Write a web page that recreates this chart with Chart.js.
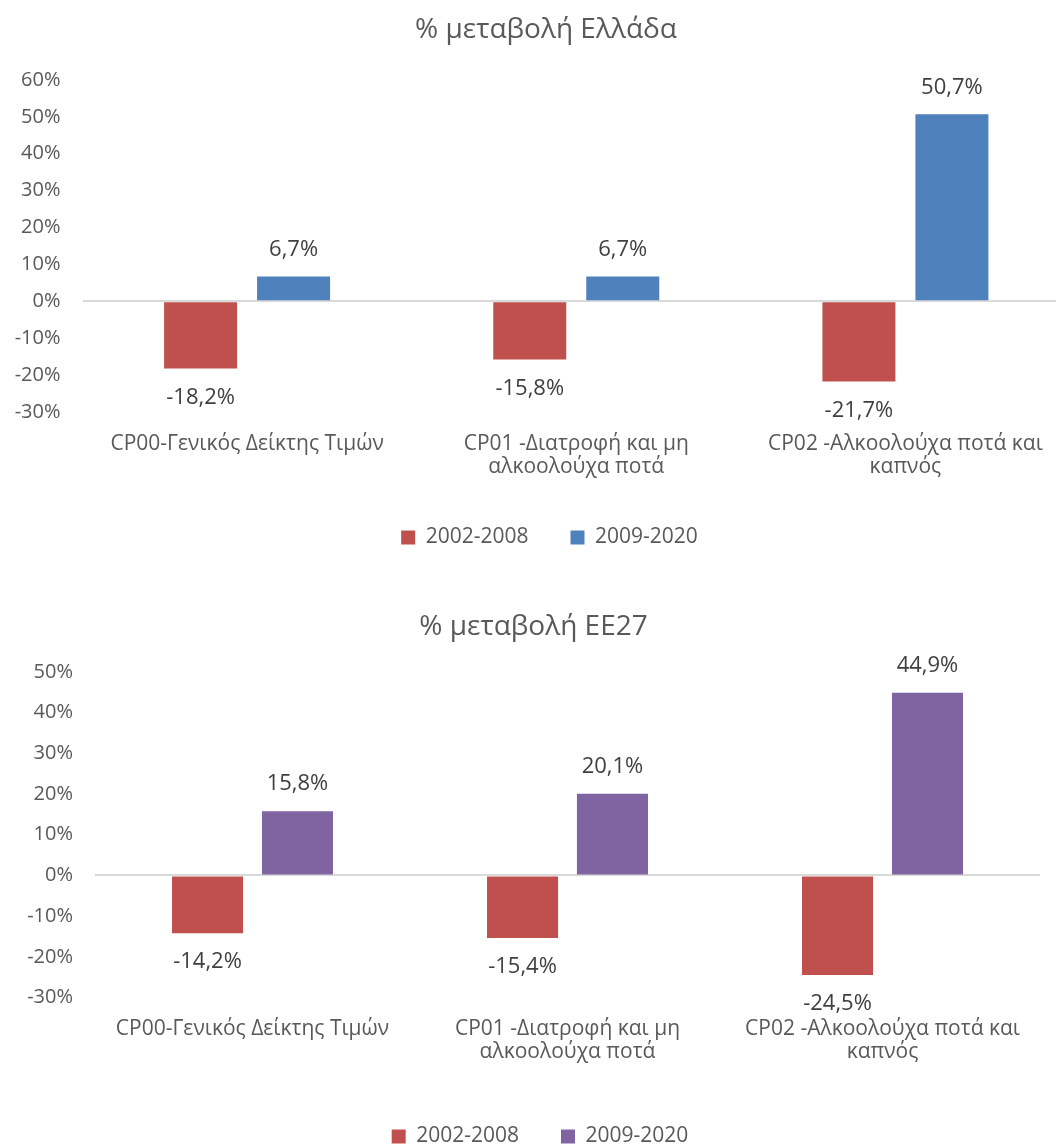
<!DOCTYPE html>
<html>
<head>
<meta charset="utf-8">
<script src="https://cdn.jsdelivr.net/npm/chart.js@4.4.0/dist/chart.umd.min.js"></script>
<style>
  html, body { margin: 0; padding: 0; background: #fff; overflow: hidden; }
  body { width: 1056px; height: 1144px; position: relative; }
  canvas { position: absolute; left: 0; }
  #greece { top: 0; }
  #eu27 { top: 572px; }
</style>
</head>
<body>
<canvas id="greece" width="1070" height="558"></canvas>
<canvas id="eu27" width="1040" height="585"></canvas>
<script>
// Data
const categories = [
    'CP00-Γενικός Δείκτης Τιμών',
    ['CP01 -Διατροφή και μη', 'αλκοολούχα ποτά'],
    ['CP02 -Αλκοολούχα ποτά και', 'καπνός']
];
const seriesNames = ['2002-2008', '2009-2020'];

const greece2002 = [-18.2, -15.8, -21.7];
const greece2009 = [6.7, 6.7, 50.7];
const eu2002 = [-14.2, -15.4, -24.5];
const eu2009 = [15.8, 20.1, 44.9];

const greeceTicks = { min: -30, max: 60, step: 10 };
const euTicks = { min: -30, max: 50, step: 10 };

const FONT = '"Open Sans", "Noto Sans", sans-serif';
const RED = '#C0504D';
const BLUE = '#4F81BD';
const PURPLE = '#8064A2';

function fmt(v) {
    return v.toFixed(1).replace('.', ',') + '%';
}

// draws the value above / below every bar
const valueLabels = {
    id: 'valueLabels',
    afterDatasetsDraw(chart) {
        const ctx = chart.ctx;
        ctx.save();
        ctx.font = '22px ' + FONT;
        ctx.fillStyle = '#404040';
        ctx.textAlign = 'center';
        ctx.textBaseline = 'middle';
        chart.data.datasets.forEach((ds, i) => {
            chart.getDatasetMeta(i).data.forEach((bar, j) => {
                const v = ds.data[j];
                const y = v >= 0 ? bar.y - 27 : bar.y + 29;
                ctx.fillText(fmt(v), bar.x, y);
            });
        });
        ctx.restore();
    }
};

// nudges title and legend sideways (Excel centres them on a wider chart area)
const shiftBoxes = {
    id: 'shiftBoxes',
    afterLayout(chart, args, opts) {
        const t = chart.titleBlock;
        if (t) { t.left += opts.title; t.right += opts.title; }
        const l = chart.legend;
        if (l) { l.left += opts.legend; l.right += opts.legend; }
    }
};

function makeChart(id, opts) {
    return new Chart(document.getElementById(id), {
        type: 'bar',
        data: {
            labels: categories,
            datasets: [{
                label: seriesNames[0],
                data: opts.first,
                backgroundColor: RED,
                categoryPercentage: opts.catPct,
                barPercentage: opts.barPct
            }, {
                label: seriesNames[1],
                data: opts.second,
                backgroundColor: opts.color,
                categoryPercentage: opts.catPct,
                barPercentage: opts.barPct
            }]
        },
        options: {
            responsive: false,
            animation: false,
            layout: { padding: 0 },
            scales: {
                x: {
                    grid: { display: false, drawTicks: false },
                    border: { display: false },
                    ticks: {
                        color: '#595959',
                        font: { family: FONT, size: 21, lineHeight: 1.1 },
                        padding: 20,
                        maxRotation: 0,
                        autoSkip: false
                    },
                    afterFit: (scale) => { scale.height = opts.xHeight; }
                },
                y: {
                    min: opts.ticks.min,
                    max: opts.ticks.max,
                    border: { display: false },
                    grid: {
                        drawTicks: false,
                        lineWidth: 2,
                        color: (c) => (c.tick && c.tick.value === 0) ? '#D9D9D9' : 'rgba(0,0,0,0)'
                    },
                    ticks: {
                        stepSize: opts.ticks.step,
                        color: '#595959',
                        font: { family: FONT, size: 20 },
                        padding: 22,
                        callback: (v) => v + '%'
                    },
                    afterFit: (scale) => { scale.width = opts.yWidth; }
                }
            },
            plugins: {
                title: {
                    display: true,
                    text: opts.title,
                    color: '#595959',
                    font: { family: FONT, size: 28, weight: 'normal' },
                    padding: { top: opts.titleTop, bottom: opts.titleBottom }
                },
                legend: {
                    position: 'bottom',
                    labels: {
                        color: '#595959',
                        font: { family: FONT, size: 21 },
                        boxWidth: 14,
                        boxHeight: 14,
                        padding: 42
                    }
                },
                tooltip: { enabled: false },
                shiftBoxes: opts.shift
            }
        },
        plugins: [valueLabels, shiftBoxes]
    });
}

makeChart('greece', {
    title: '% μεταβολή Ελλάδα',
    first: greece2002,
    second: greece2009,
    color: BLUE,
    ticks: greeceTicks,
    catPct: 0.565,
    barPct: 0.785,
    yWidth: 82.5,
    xHeight: 73,
    titleTop: 13.2,
    titleBottom: 33.2,
    shift: { title: 11, legend: 14.5 }
});

makeChart('eu27', {
    title: '% μεταβολή ΕΕ27',
    first: eu2002,
    second: eu2009,
    color: PURPLE,
    ticks: euTicks,
    catPct: 0.571,
    barPct: 0.79,
    yWidth: 95,
    xHeight: 86.5,
    titleTop: 38.2,
    titleBottom: 28.2,
    shift: { title: 13.5, legend: 20 }
});
</script>
</body>
</html>
